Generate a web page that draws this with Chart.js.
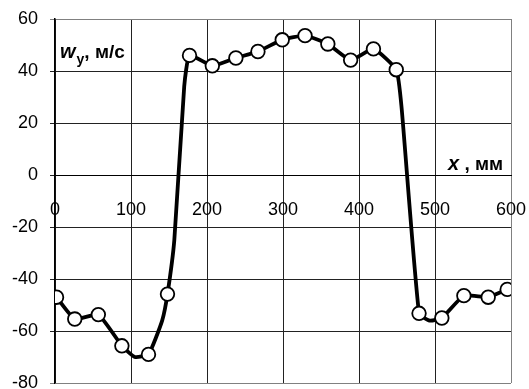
<!DOCTYPE html>
<html>
<head>
<meta charset="utf-8">
<script src="https://cdn.jsdelivr.net/npm/chart.js@4/dist/chart.umd.min.js"></script>
<style>
  html, body { margin: 0; padding: 0; background: #fff; overflow: hidden; }
  #wrap { position: relative; width: 529px; height: 400px; }
</style>
</head>
<body>
<div id="wrap"><canvas id="c"></canvas></div>
<script>
/* velocity profile w_y along x */

var xTicks = [0, 100, 200, 300, 400, 500, 600];
var yTicks = [-80, -60, -40, -20, 0, 20, 40, 60];

// full curve, including bends without a marker
var curveX = [2, 26, 57, 88, 105, 123, 141, 148, 157, 170, 177, 207, 238, 267, 299, 329, 359, 389, 419, 449, 456, 479, 493, 509, 538, 570, 595];
var curveY = [-47, -55.4, -53.7, -65.7, -70, -69, -56, -45.8, -25, 34, 46, 42, 45, 47.5, 52, 53.6, 50.4, 44.2, 48.5, 40.5, 26, -53.2, -56, -55, -46.4, -47, -44];

// measured points (open markers)
var markX = [2, 26, 57, 88, 123, 148, 177, 207, 238, 267, 299, 329, 359, 389, 419, 449, 479, 509, 538, 570, 595];
var markY = [-47, -55.4, -53.7, -65.7, -69, -45.8, 46, 42, 45, 47.5, 52, 53.6, 50.4, 44.2, 48.5, 40.5, -53.2, -55, -46.4, -47, -44];

var FONT = "'Liberation Sans', Arial, sans-serif";

function toPoints(xs, ys) {
  var out = [];
  for (var i = 0; i < xs.length; i++) out.push({ x: xs[i], y: ys[i] });
  return out;
}

var axisTitles = {
  id: 'axisTitles',
  afterDraw: function (chart) {
    var ctx = chart.ctx;
    ctx.save();
    ctx.fillStyle = '#000';
    ctx.textBaseline = 'alphabetic';
    ctx.textAlign = 'left';
    // w_y, м/с
    var x = 60;
    ctx.font = 'italic bold 20px ' + FONT;
    ctx.fillText('w', x, 58);
    x += ctx.measureText('w').width + 1;
    ctx.font = 'bold 14px ' + FONT;
    ctx.fillText('y', x, 64);
    x += ctx.measureText('y').width;
    ctx.font = 'bold 19px ' + FONT;
    ctx.fillText(', м/с', x, 58);
    // x, мм
    x = 448;
    ctx.font = 'italic bold 20px ' + FONT;
    ctx.fillText('x', x, 170);
    x += ctx.measureText('x').width;
    ctx.font = 'bold 19px ' + FONT;
    ctx.fillText(' , мм', x, 170);
    ctx.restore();
  }
};

function edgeColor(ctx, a, b) {
  var v = ctx.tick ? ctx.tick.value : null;
  return (v === a || v === b) ? '#808080' : '#222';
}

new Chart(document.getElementById('c'), {
  type: 'scatter',
  data: {
    datasets: [
      { data: toPoints(markX, markY), showLine: false, pointStyle: 'circle', pointRadius: 6.8,
        pointBackgroundColor: '#ffffff', pointBorderColor: '#000000', pointBorderWidth: 1.8, order: 0 },
      { data: toPoints(curveX, curveY), showLine: true, borderColor: '#000', borderWidth: 3.8,
        pointRadius: 0, tension: 0.15, order: 1 }
    ]
  },
  options: {
    responsive: true, maintainAspectRatio: false, animation: false,
    layout: { padding: { top: 19, right: 18, bottom: 17, left: 0 } },
    plugins: { legend: { display: false }, tooltip: { enabled: false } },
    scales: {
      x: {
        type: 'linear', min: 0, max: 600, position: { y: 0 },
        afterBuildTicks: function (s) { s.ticks = xTicks.map(function (v) { return { value: v }; }); },
        afterFit: function (s) { s.paddingLeft = 0; s.paddingRight = 0; },
        grid: { color: function (c) { return edgeColor(c, 600, 600); }, lineWidth: 1, tickLength: 8 },
        border: { color: '#000', width: 1 },
        ticks: { color: '#000', padding: 16, maxRotation: 0, font: { family: FONT, size: 18 } }
      },
      y: {
        type: 'linear', min: -80, max: 60,
        afterBuildTicks: function (s) { s.ticks = yTicks.map(function (v) { return { value: v }; }); },
        afterFit: function (s) { s.width = 55; s.paddingTop = 0; s.paddingBottom = 0; },
        grid: { color: function (c) { return edgeColor(c, 60, -80); }, lineWidth: 1, tickLength: 5 },
        border: { color: '#000', width: 1.5 },
        ticks: { color: '#000', padding: 12, font: { family: FONT, size: 18 } }
      }
    }
  },
  plugins: [axisTitles]
});
</script>
</body>
</html>
